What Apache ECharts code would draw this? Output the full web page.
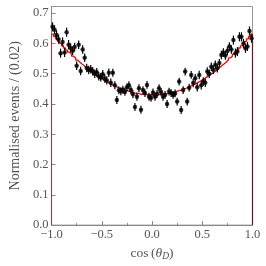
<!DOCTYPE html>
<html><head><meta charset="utf-8">
<script src="https://cdn.jsdelivr.net/npm/echarts@6/dist/echarts.min.js"></script>
<style>html,body{margin:0;padding:0;background:#fff}#c{width:266px;height:266px}</style>
</head><body><div id="c"></div>
<script>
// bin centres of width 0.02 from -1 to 1
const binEdgesLow = -1.0;
const binWidth = 0.02;
const dataValues = [
0.655,0.645,0.628,0.614,0.568,0.605,0.570,0.637,0.596,0.585,
0.576,0.588,0.526,0.596,0.509,0.580,0.553,0.519,0.512,0.515,
0.508,0.500,0.505,0.492,0.488,0.498,0.484,0.478,0.503,0.470,
0.503,0.462,0.413,0.445,0.442,0.447,0.440,0.455,0.462,0.446,
0.432,0.390,0.424,0.452,0.381,0.446,0.436,0.463,0.424,0.420,
0.438,0.424,0.433,0.452,0.440,0.424,0.430,0.400,0.441,0.436,
0.430,0.435,0.408,0.474,0.380,0.446,0.507,0.408,0.454,0.496,
0.469,0.485,0.455,0.496,0.462,0.474,0.470,0.507,0.500,0.523,
0.513,0.530,0.518,0.535,0.562,0.570,0.560,0.575,0.590,0.580,
0.611,0.568,0.573,0.622,0.622,0.600,0.584,0.590,0.641,0.617];
const dataErrors = [
0.015,0.015,0.015,0.015,0.015,0.015,0.015,0.015,0.015,0.015,
0.014,0.014,0.014,0.014,0.014,0.014,0.014,0.014,0.014,0.014,
0.014,0.014,0.014,0.014,0.014,0.014,0.014,0.014,0.014,0.014,
0.013,0.013,0.013,0.013,0.013,0.013,0.013,0.013,0.013,0.013,
0.013,0.013,0.013,0.013,0.013,0.013,0.013,0.013,0.013,0.013,
0.013,0.013,0.013,0.013,0.013,0.013,0.013,0.013,0.013,0.013,
0.013,0.013,0.013,0.013,0.013,0.013,0.013,0.013,0.013,0.013,
0.014,0.014,0.014,0.014,0.014,0.014,0.014,0.014,0.014,0.014,
0.014,0.014,0.014,0.014,0.014,0.014,0.014,0.014,0.014,0.014,
0.015,0.015,0.015,0.015,0.015,0.015,0.015,0.015,0.015,0.015];
const fitValues = [
0.631,0.623,0.615,0.607,0.600,0.592,0.585,0.578,0.571,0.565,
0.558,0.552,0.545,0.539,0.533,0.528,0.522,0.517,0.511,0.506,
0.501,0.497,0.492,0.488,0.483,0.479,0.475,0.472,0.468,0.464,
0.461,0.458,0.455,0.452,0.450,0.447,0.445,0.443,0.441,0.439,
0.437,0.436,0.435,0.433,0.432,0.432,0.431,0.431,0.430,0.430,
0.430,0.430,0.431,0.431,0.432,0.432,0.433,0.435,0.436,0.437,
0.439,0.441,0.443,0.445,0.447,0.450,0.452,0.455,0.458,0.461,
0.464,0.468,0.472,0.475,0.479,0.483,0.488,0.492,0.497,0.501,
0.506,0.511,0.517,0.522,0.528,0.533,0.539,0.545,0.552,0.558,
0.565,0.571,0.578,0.585,0.592,0.600,0.607,0.615,0.623,0.631];
const xTicks = [-1.0,-0.5,0.0,0.5,1.0];
const yTicks = [0.0,0.1,0.2,0.3,0.4,0.5,0.6,0.7];

const pts = dataValues.map((v,i)=>[+(binEdgesLow+binWidth*(i+0.5)).toFixed(3), v, dataErrors[i]]);
const step = [];
fitValues.forEach((v,i)=>{
  const a = +(binEdgesLow+binWidth*i).toFixed(3), b = +(binEdgesLow+binWidth*(i+1)).toFixed(3);
  step.push([a,v]); step.push([b,v]);
});
const xHigh = +(binEdgesLow+binWidth*fitValues.length).toFixed(3);
const leftEdge = [[binEdgesLow,0],[binEdgesLow,fitValues[0]]];
const rightEdge = [[xHigh,0],[xHigh,fitValues[fitValues.length-1]]];

const FONT = 'Liberation Serif';
const fmt = v => (v<0?'\u2212':'') + Math.abs(v).toFixed(1);
const chart = echarts.init(document.getElementById('c'));
chart.setOption({
  animation:false,
  grid:{left:43,right:13.5,top:6.5,bottom:40.7,show:true,borderColor:'#999',borderWidth:1},
  xAxis:{type:'value',min:-1,max:1,interval:0.5,
    axisLine:{show:true,onZero:false,lineStyle:{color:'#888'}},
    axisTick:{show:true,inside:true,length:4,lineStyle:{color:'#888'}},
    minorTick:{show:true,splitNumber:2,length:2,lineStyle:{color:'#888'}},
    splitLine:{show:false},
    axisLabel:{fontFamily:FONT,fontSize:12.5,color:'#555',margin:3,formatter:fmt},
    name:'cos\u2009({t|θ}{s|D})',nameLocation:'middle',nameGap:19,
    nameTextStyle:{fontFamily:FONT,fontSize:13.5,color:'#555',
      rich:{t:{fontFamily:FONT,fontSize:13.5,fontStyle:'italic',color:'#555'},
            s:{fontFamily:FONT,fontSize:9.5,fontStyle:'italic',color:'#555',verticalAlign:'bottom',padding:[6,0,0,0]}}}},
  yAxis:{type:'value',min:0,max:0.722,interval:0.1,
    axisLine:{show:true,onZero:false,lineStyle:{color:'#888'}},
    axisTick:{show:true,inside:true,length:4,lineStyle:{color:'#888'}},
    splitLine:{show:false},
    axisLabel:{fontFamily:FONT,fontSize:12.5,color:'#555',margin:3,showMaxLabel:false,
      formatter:v=>fmt(v)},
    name:'Normalised events / (0.02)',nameLocation:'middle',nameGap:27,
    nameTextStyle:{fontFamily:FONT,fontSize:14,color:'#555'}},
  series:[
    {type:'line',data:step,showSymbol:false,symbol:'none',lineStyle:{color:'#ff0000',width:1.3},z:3},
    {type:'line',data:leftEdge,showSymbol:false,symbol:'none',clip:false,lineStyle:{color:'#b03030',width:1},z:3},
    {type:'line',data:rightEdge,showSymbol:false,symbol:'none',clip:false,lineStyle:{color:'#6a1a1a',width:1.2},z:3},
    {type:'custom',z:4,data:pts,renderItem:(params,api)=>{
      const x=api.value(0), y=api.value(1), e=api.value(2);
      const p0=api.coord([x,y-e]), p1=api.coord([x,y+e]);
      const q0=api.coord([x-binWidth/2,y]), q1=api.coord([x+binWidth/2,y]);
      const st={stroke:'#000',lineWidth:1.2};
      return {type:'group',children:[
        {type:'line',shape:{x1:p0[0],y1:p0[1],x2:p1[0],y2:p1[1]},style:st},
        {type:'line',shape:{x1:q0[0],y1:q0[1],x2:q1[0],y2:q1[1]},style:st}]};
    }},
    {type:'scatter',data:pts.map(p=>[p[0],p[1]]),symbol:'circle',symbolSize:4.5,itemStyle:{color:'#000'},z:5}
  ]
});
</script></body></html>
